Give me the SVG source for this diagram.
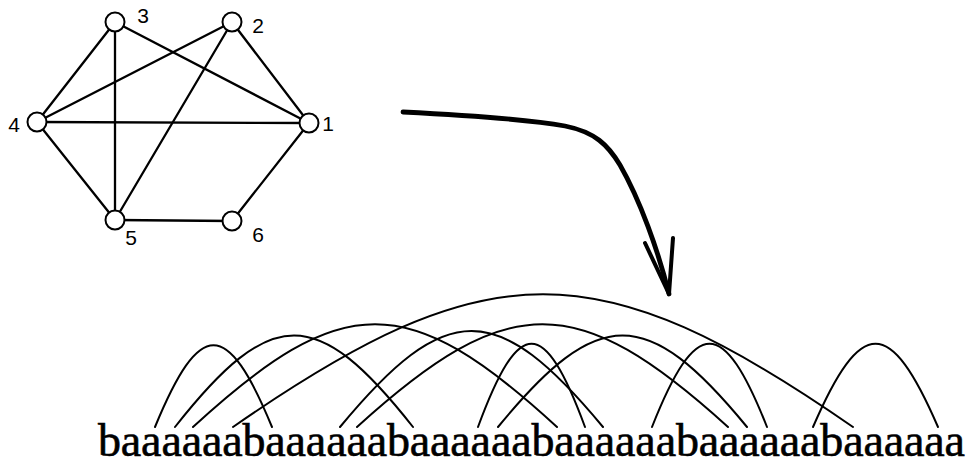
<svg xmlns="http://www.w3.org/2000/svg" width="974" height="466" viewBox="0 0 974 466">
<style>
.edge{stroke:#000;stroke-width:2.3;fill:none;stroke-linecap:round}
.node circle{fill:#fff;stroke:#000;stroke-width:2}
.lbl{font-family:"Liberation Sans",Arial,sans-serif;font-size:21px;fill:#000;text-anchor:middle}
.arc{stroke:#000;stroke-width:2;fill:none;stroke-linecap:round}
.arrow{stroke:#000;fill:none;stroke-linecap:round;stroke-linejoin:round}
.word{font-family:"Liberation Serif","Times New Roman",serif;font-size:46px;fill:#000;stroke:#000;stroke-width:0.6}
</style>
<rect width="974" height="466" fill="#fff"/>
<g id="connectors">
<line class="edge" x1="115" y1="22" x2="37" y2="122"/>
<line class="edge" x1="115" y1="22" x2="115" y2="220"/>
<line class="edge" x1="115" y1="22" x2="309" y2="123"/>
<line class="edge" x1="232" y1="22" x2="37" y2="122"/>
<line class="edge" x1="232" y1="22" x2="115" y2="220"/>
<line class="edge" x1="232" y1="22" x2="309" y2="123"/>
<line class="edge" x1="37" y1="122" x2="309" y2="123"/>
<line class="edge" x1="37" y1="122" x2="115" y2="220"/>
<line class="edge" x1="115" y1="220" x2="232" y2="221"/>
<line class="edge" x1="232" y1="221" x2="309" y2="123"/>
</g>
<g id="n1" class="node"><circle cx="309" cy="123" r="9.5"/><text class="lbl" x="328" y="131">1</text></g>
<g id="n2" class="node"><circle cx="232" cy="22" r="9.5"/><text class="lbl" x="258" y="33">2</text></g>
<g id="n3" class="node"><circle cx="115" cy="22" r="9.5"/><text class="lbl" x="143" y="23">3</text></g>
<g id="n4" class="node"><circle cx="37" cy="122" r="9.5"/><text class="lbl" x="14" y="132">4</text></g>
<g id="n5" class="node"><circle cx="115" cy="220" r="9.5"/><text class="lbl" x="131" y="245">5</text></g>
<g id="n6" class="node"><circle cx="232" cy="221" r="9.5"/><text class="lbl" x="258" y="242">6</text></g>
<g id="bigarrow">
<path class="arrow" stroke-width="4.8" d="M403,112 Q520,118 565,126 C595,132 608,145 620,165 C640,200 658,250 669,294"/>
<path class="arrow" stroke-width="4" d="M645,243 L669,294 L673,238"/>
</g>
<g id="arcs">
<path class="arc" d="M155,427 C200,318 227,318 272,427"/>
<path class="arc" d="M175,427 C271,305 317,305 413,427"/>
<path class="arc" d="M193,427 C342,290 408,290 557,427"/>
<path class="arc" d="M233,427 C488,250 598,250 853,427"/>
<path class="arc" d="M340,427 C446,299 497,299 603,427"/>
<path class="arc" d="M357,427 C508,290 577,290 728,427"/>
<path class="arc" d="M478,427 C519,316 544,316 585,427"/>
<path class="arc" d="M498,427 C598,305 647,305 747,427"/>
<path class="arc" d="M652,427 C696,316 723,316 767,427"/>
<path class="arc" d="M813,427 C861,316 890,316 938,427"/>
</g>
<text class="word" x="98" y="456" textLength="867" lengthAdjust="spacing">baaaaaabaaaaaabaaaaaabaaaaaabaaaaaabaaaaaa</text>
</svg>
